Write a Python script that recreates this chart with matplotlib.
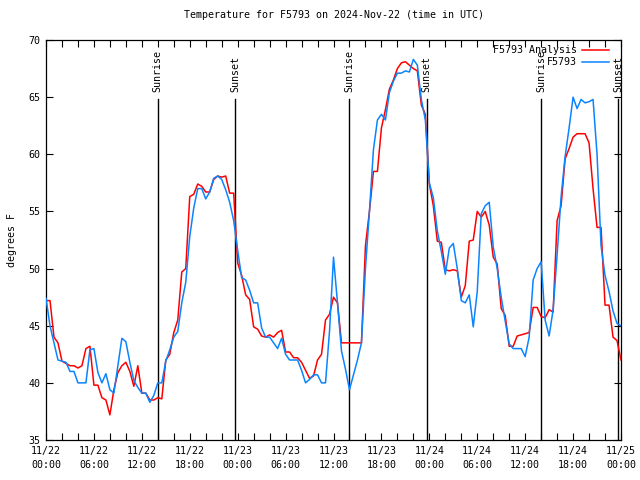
import numpy as np
import pandas as pd
import matplotlib
matplotlib.use("Agg")
import matplotlib.pyplot as plt
import matplotlib.dates as mdates

# ---- data -------------------------------------------------------------
times = pd.date_range("2024-11-22 00:00", "2024-11-25 00:00", freq="30min")

station = [
    47.4, 45.0, 43.5, 42.0, 41.9, 41.8, 41.0, 41.0, 40.0, 40.0,
    40.0, 42.9, 43.0, 40.9, 40.0, 40.8, 39.4, 39.1, 41.5, 43.9,
    43.6, 41.8, 40.2, 39.6, 39.1, 39.1, 38.3, 38.9, 40.0, 40.0,
    41.9, 42.9, 44.0, 44.5, 47.0, 48.8, 52.8, 55.3, 57.0, 57.0,
    56.1, 56.7, 57.9, 58.1, 57.8, 56.9, 55.8, 54.2, 51.6, 49.2,
    49.0, 48.1, 47.0, 47.0, 44.8, 44.0, 44.0, 43.5, 43.0, 43.9,
    42.5, 42.0, 42.0, 42.0, 41.1, 40.0, 40.3, 40.7, 40.7, 40.0,
    40.0, 44.5, 51.0, 47.0, 42.8, 41.2, 39.4, 40.7, 42.0, 43.5,
    50.0, 55.0, 60.4, 63.0, 63.5, 63.0, 65.4, 66.4, 67.1, 67.1,
    67.3, 67.2, 68.3, 67.8, 64.8, 63.0, 57.5, 56.2, 53.3, 51.5,
    49.5, 51.8, 52.2, 50.0, 47.2, 47.0, 47.7, 44.9, 48.0, 54.8,
    55.5, 55.8, 51.9, 50.0, 47.5, 45.4, 43.4, 43.0, 43.0, 43.0,
    42.3, 44.0, 49.0, 50.0, 50.6, 45.5, 44.1, 46.4, 51.2, 56.3,
    59.8, 62.3, 65.0, 64.0, 64.8, 64.5, 64.6, 64.8, 60.0, 52.0,
    49.4, 48.0, 46.3, 45.2, 45.0,
]

analysis = [
    47.2, 47.2, 44.0, 43.5, 41.9, 41.7, 41.5, 41.5, 41.3, 41.5,
    43.0, 43.2, 39.8, 39.8, 38.7, 38.5, 37.2, 39.4, 40.9, 41.5,
    41.8, 41.0, 39.7, 41.5, 39.1, 39.1, 38.5, 38.5, 38.7, 38.6,
    42.0, 42.5, 44.4, 45.5, 49.7, 50.0, 56.3, 56.5, 57.4, 57.2,
    56.7, 56.7, 57.8, 58.1, 58.0, 58.1, 56.6, 56.6, 50.5, 49.4,
    47.7, 47.3, 44.9, 44.7, 44.1, 44.0, 44.2, 44.0, 44.4, 44.6,
    42.7, 42.7, 42.2, 42.2, 41.8, 41.1, 40.4, 40.6, 42.0, 42.5,
    45.5, 46.0, 47.5, 47.0, 43.5, 43.5, 43.5, 43.5, 43.5, 43.5,
    52.0, 55.0, 58.5, 58.5, 62.3, 63.9, 65.7, 66.5, 67.5, 68.0,
    68.1, 67.8, 67.5, 67.3, 64.3, 63.5, 57.4, 55.5, 52.4, 52.3,
    49.9, 49.8, 49.9, 49.8, 47.5, 48.5, 52.4, 52.5, 55.0, 54.5,
    55.0, 53.8, 51.0, 50.4, 46.5, 45.9, 43.2, 43.2, 44.1, 44.2,
    44.3, 44.4, 46.6, 46.6, 45.8, 45.7, 46.4, 46.2, 54.2, 55.5,
    59.6, 60.5, 61.5, 61.8, 61.8, 61.8, 61.0, 57.0, 53.6, 53.6,
    46.8, 46.8, 44.0, 43.7, 42.0,
]

sun_events = ["2024-11-22 14:00", "2024-11-22 23:40",
              "2024-11-23 14:00", "2024-11-23 23:40",
              "2024-11-24 14:00", "2024-11-24 23:40"]
sun_labels = ["Sunrise", "Sunset", "Sunrise", "Sunset", "Sunrise", "Sunset"]

title = "Temperature for F5793 on 2024-Nov-22 (time in UTC)"
ylabel = "degrees F"
legend_labels = ["F5793 Analysis", "F5793"]

# ---- plot -------------------------------------------------------------
FONT = "DejaVu Sans Mono"
FS = 7.2
plt.rcParams["font.family"] = FONT

fig = plt.figure(figsize=(6.4, 4.8), dpi=100)
ax = fig.add_axes([46 / 640, 40 / 480, 575 / 640, 400 / 480])

RED = "#ff0000"
BLUE = "#0a84ff"

ax.plot(times, analysis, color=RED, lw=1.1, zorder=3)
ax.plot(times, station, color=BLUE, lw=1.1, zorder=3)

for t, lab in zip(sun_events, sun_labels):
    tt = pd.Timestamp(t)
    ax.plot([tt, tt], [35, 64.8], color="black", lw=1.0, zorder=2)
    ax.text(tt, 65.45, lab, rotation=90, ha="center", va="bottom",
            fontsize=FS, family=FONT)

ax.set_xlim(times[0], times[-1])
ax.set_ylim(35, 70)
ax.set_yticks(np.arange(35, 71, 5))

ax.xaxis.set_major_locator(mdates.HourLocator(byhour=[0, 6, 12, 18]))
ax.xaxis.set_minor_locator(mdates.HourLocator(byhour=range(0, 24, 2)))
ax.xaxis.set_major_formatter(mdates.DateFormatter("%m/%d\n%H:%M"))

ax.tick_params(axis="both", which="both", direction="in", top=True,
               right=True, length=5, width=0.8, labelsize=FS, pad=4)
for lbl in ax.get_xticklabels():
    lbl.set_linespacing(1.5)

for sp in ax.spines.values():
    sp.set_linewidth(0.9)

ax.set_title(title, fontsize=FS, pad=16)
ax.set_ylabel(ylabel, fontsize=FS, labelpad=8)

# legend (gnuplot style, text then sample line)
for i, (lab, col) in enumerate(zip(legend_labels, [RED, BLUE])):
    yy = 0.975 - i * 0.030
    ax.text(0.923, yy, lab, transform=ax.transAxes, ha="right",
            va="center", fontsize=FS, zorder=5)
    ax.plot([0.932, 0.979], [yy, yy], transform=ax.transAxes,
            color=col, lw=1.1, zorder=5)

fig.savefig("out.png", dpi=100)
